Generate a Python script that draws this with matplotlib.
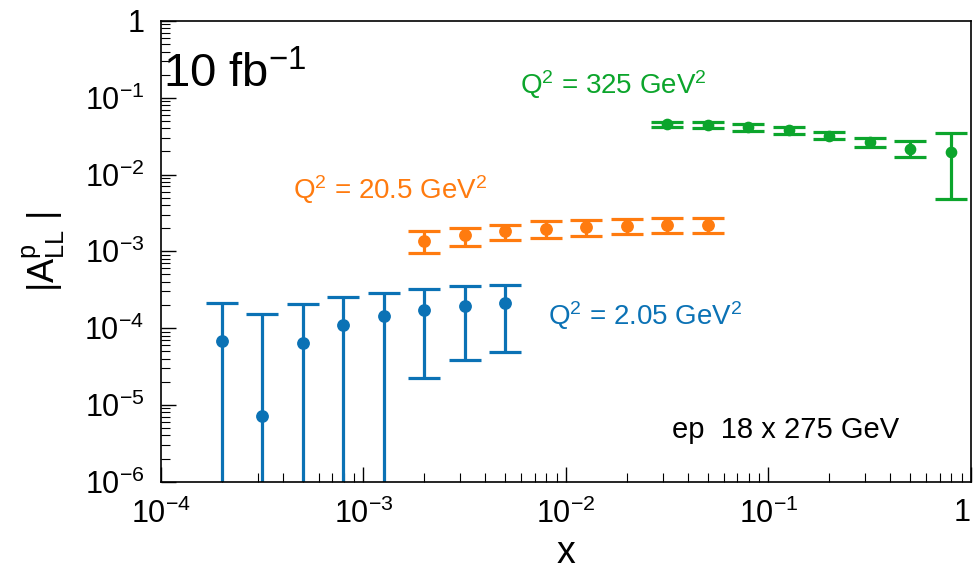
import matplotlib
matplotlib.use("Agg")
import matplotlib.pyplot as plt

plt.rcParams['font.family'] = ['Liberation Sans', 'DejaVu Sans']
plt.rcParams['mathtext.fontset'] = 'custom'
plt.rcParams['mathtext.rm'] = 'Liberation Sans'
plt.rcParams['mathtext.it'] = 'Liberation Sans'
plt.rcParams['mathtext.bf'] = 'Liberation Sans:bold'

# Q^2 = 2.05 GeV^2
x_blue = [2.0e-4, 3.16e-4, 5.0e-4, 7.94e-4, 1.26e-3, 2.0e-3, 3.16e-3, 5.0e-3]
a_blue = [6.7e-5, 7.2e-6, 6.5e-5, 1.1e-4, 1.46e-4, 1.73e-4, 1.95e-4, 2.11e-4]
hi_blue = [2.11e-4, 1.52e-4, 2.05e-4, 2.55e-4, 2.87e-4, 3.21e-4, 3.55e-4, 3.68e-4]
lo_blue = [1e-8, 1e-8, 1e-8, 1e-8, 1e-8, 2.27e-5, 3.85e-5, 4.9e-5]

# Q^2 = 20.5 GeV^2
x_orange = [2.0e-3, 3.16e-3, 5.0e-3, 7.94e-3, 1.26e-2, 2.0e-2, 3.16e-2, 5.0e-2]
a_orange = [1.38e-3, 1.62e-3, 1.85e-3, 1.98e-3, 2.06e-3, 2.15e-3, 2.2e-3, 2.2e-3]
hi_orange = [1.85e-3, 2.04e-3, 2.21e-3, 2.47e-3, 2.58e-3, 2.65e-3, 2.7e-3, 2.7e-3]
lo_orange = [9.45e-4, 1.19e-3, 1.40e-3, 1.51e-3, 1.6e-3, 1.68e-3, 1.72e-3, 1.72e-3]

# Q^2 = 325 GeV^2
x_green = [3.16e-2, 5.0e-2, 7.94e-2, 0.126, 0.2, 0.316, 0.5, 0.794]
a_green = [4.52e-2, 4.42e-2, 4.13e-2, 3.77e-2, 3.21e-2, 2.65e-2, 2.17e-2, 1.99e-2]
hi_green = [4.89e-2, 4.8e-2, 4.56e-2, 4.2e-2, 3.59e-2, 3.02e-2, 2.71e-2, 3.51e-2]
lo_green = [4.13e-2, 4.05e-2, 3.73e-2, 3.38e-2, 2.88e-2, 2.31e-2, 1.71e-2, 4.81e-3]

x_ticks = [1e-4, 1e-3, 1e-2, 1e-1, 1]
x_ticklabels = ['$10^{-4}$', '$10^{-3}$', '$10^{-2}$', '$10^{-1}$', '1']
y_ticks = [1e-6, 1e-5, 1e-4, 1e-3, 1e-2, 1e-1, 1]
y_ticklabels = ['$10^{-6}$', '$10^{-5}$', '$10^{-4}$', '$10^{-3}$',
                '$10^{-2}$', '$10^{-1}$', '1']

c_blue = '#0b72b5'
c_orange = '#ff7b0f'
c_green = '#0ca52c'

fig = plt.figure(figsize=(9.74, 5.73), dpi=100)
ax = fig.add_axes([0.1653, 0.1593, 0.8316, 0.8041])
ax.set_xscale('log')
ax.set_yscale('log')
ax.set_xlim(1e-4, 1)
ax.set_ylim(1e-6, 1)


def draw(x, a, hi, lo, col, ms):
    yerr = [[v - l for v, l in zip(a, lo)], [h - v for v, h in zip(a, hi)]]
    ax.errorbar(x, a, yerr=yerr, fmt='o', color=col, ms=ms, elinewidth=2.3,
                capsize=11.7, capthick=2.3, clip_on=True)


draw(x_blue, a_blue, hi_blue, lo_blue, c_blue, 8.2)
draw(x_orange, a_orange, hi_orange, lo_orange, c_orange, 8.2)
draw(x_green, a_green, hi_green, lo_green, c_green, 7.4)

ax.set_xticks(x_ticks)
ax.set_xticklabels(x_ticklabels)
ax.set_yticks(y_ticks)
ax.set_yticklabels(y_ticklabels)
ax.tick_params(which='both', direction='in', top=False, right=False)
ax.tick_params(which='major', length=11, width=1.0, labelsize=22, pad=12)
ax.tick_params(which='minor', length=6.5, width=0.8)
# keep the last x label inside the figure
ax.get_xticklabels()[-1].set_horizontalalignment('right')
for s in ax.spines.values():
    s.set_linewidth(1.2)

ax.set_xlabel('x', fontsize=27)
ax.xaxis.set_label_coords(0.5, -0.115)
ax.set_ylabel(r'|A$^{p}_{LL}$ |', fontsize=26)
ax.yaxis.set_label_coords(-0.116, 0.5)

ax.text(0.003, 0.883, '10 fb$^{-1}$', transform=ax.transAxes, fontsize=34,
        va='center', ha='left')
ax.text(0.443, 0.861, 'Q$^2$ = 325 GeV$^2$', transform=ax.transAxes,
        fontsize=20, color=c_green, va='center', ha='left')
ax.text(0.163, 0.633, 'Q$^2$ = 20.5 GeV$^2$', transform=ax.transAxes,
        fontsize=20, color=c_orange, va='center', ha='left')
ax.text(0.478, 0.36, 'Q$^2$ = 2.05 GeV$^2$', transform=ax.transAxes,
        fontsize=20, color=c_blue, va='center', ha='left')
ax.text(0.631, 0.113, 'ep  18 x 275 GeV', transform=ax.transAxes,
        fontsize=21, va='center', ha='left')

fig.savefig('out.png', dpi=100)
